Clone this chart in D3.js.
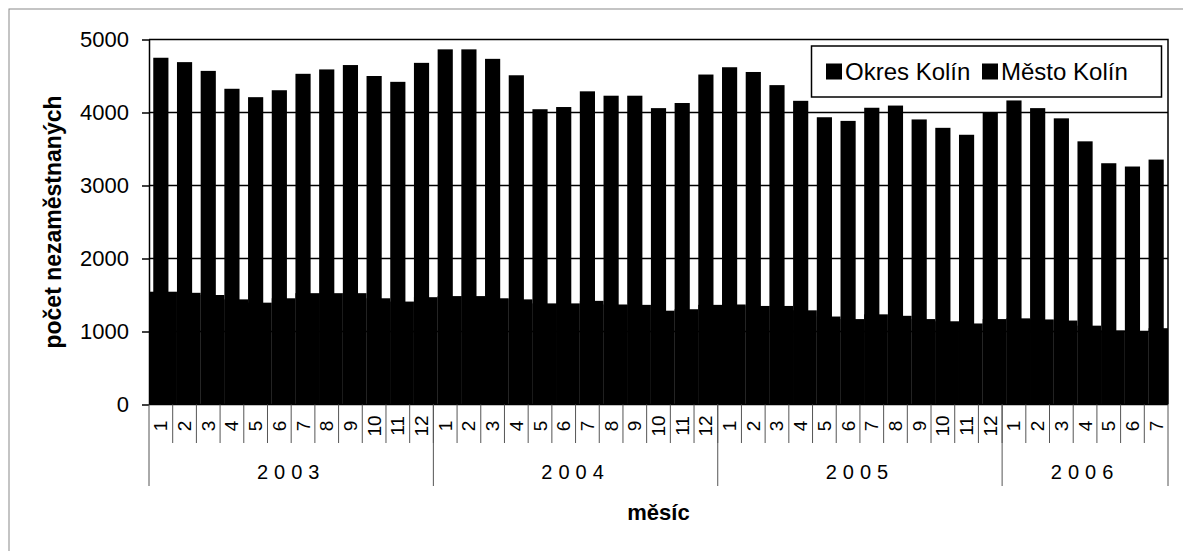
<!DOCTYPE html>
<html>
<head>
<meta charset="utf-8">
<script src="https://cdn.jsdelivr.net/npm/d3@7"></script>
<style>
  body { margin: 0; background: #fff; }
  text { font-family: "Liberation Sans", Arial, sans-serif; fill: #000; }
</style>
</head>
<body>
<div id="chart"></div>
<script>
// data
var years = ['2003', '2004', '2005', '2006'];
var monthsPerYear = [12, 12, 12, 7];
var seriesNames = ['Okres Kolín', 'Město Kolín'];
var okres = [4750, 4690, 4570, 4325, 4210, 4305, 4530, 4590, 4650, 4500, 4420, 4680,
             4865, 4865, 4735, 4510, 4045, 4075, 4290, 4230, 4230, 4060, 4130, 4520,
             4620, 4555, 4375, 4160, 3935, 3885, 4065, 4095, 3905, 3790, 3695, 4000,
             4165, 4060, 3920, 3605, 3305, 3260, 3355];
var mesto = [1545, 1530, 1500, 1440, 1395, 1455, 1525, 1525, 1525, 1455, 1410, 1470,
             1485, 1485, 1455, 1440, 1385, 1385, 1420, 1370, 1365, 1285, 1305, 1365,
             1370, 1350, 1350, 1290, 1205, 1170, 1235, 1215, 1170, 1140, 1110, 1170,
             1180, 1165, 1150, 1080, 1015, 1005, 1045];
var yTicks = [0, 1000, 2000, 3000, 4000, 5000];

var width = 1183, height = 551;
// plot area edges (named so they don't clash with window.top)
var pLeft = 149, pRight = 1168, pTop = 39.5, pBottom = 404.5;

// build the category list (year + month)
var cats = [];
years.forEach(function (yr, yi) {
  for (var m = 1; m <= monthsPerYear[yi]; m++) cats.push({ year: yr, month: m, i: cats.length });
});

var svg = d3.select('#chart').append('svg')
  .attr('width', width)
  .attr('height', height);

// outer chart frame (only top/left visible in the scan)
svg.append('rect')
  .attr('x', 9).attr('y', 9)
  .attr('width', width + 20).attr('height', height + 20)
  .attr('fill', 'none').attr('stroke', '#8a8a8a').attr('stroke-width', 1);

var x = d3.scaleBand().domain(cats.map(function (d) { return d.i; })).range([pLeft, pRight]);
var y = d3.scaleLinear().domain([0, 5000]).range([pBottom, pTop]);
var step = x.step();
var bw = step * 0.64;
var barX = function (i) { return x(i) + (step - bw) / 2; };

// gridlines
svg.append('g').selectAll('line').data(yTicks.slice(1, -1))
  .enter().append('line')
  .attr('x1', pLeft).attr('x2', pRight)
  .attr('y1', function (d) { return y(d); })
  .attr('y2', function (d) { return y(d); })
  .attr('stroke', '#000').attr('stroke-width', 1.5);

// Okres Kolín bars
svg.append('g').selectAll('rect').data(okres)
  .enter().append('rect')
  .attr('x', function (d, i) { return barX(i); })
  .attr('y', function (d) { return y(d); })
  .attr('width', bw)
  .attr('height', function (d) { return pBottom - y(d); })
  .attr('fill', '#000');

// Město Kolín bars (wide, fill the gaps)
svg.append('g').selectAll('rect').data(mesto)
  .enter().append('rect')
  .attr('x', function (d, i) { return i === 0 ? x(0) : barX(i); })
  .attr('y', function (d) { return y(d); })
  .attr('width', function (d, i) {
    var x0 = i === 0 ? x(0) : barX(i);
    return Math.min(barX(i) + step, pRight) - x0;
  })
  .attr('height', function (d) { return pBottom - y(d); })
  .attr('fill', '#000');

// plot border (top + right)
svg.append('path')
  .attr('d', 'M' + pLeft + ',' + pTop + 'H' + pRight + 'V' + pBottom)
  .attr('fill', 'none').attr('stroke', '#000').attr('stroke-width', 1.5);

// y axis
var yAxis = svg.append('g')
  .attr('transform', 'translate(' + pLeft + ',0)')
  .call(d3.axisLeft(y).tickValues(yTicks).tickFormat(d3.format('d'))
    .tickSize(7).tickPadding(13).tickSizeOuter(0));
yAxis.select('.domain').attr('stroke', '#000').attr('stroke-width', 1.5);
yAxis.selectAll('.tick line').attr('stroke', '#000').attr('stroke-width', 1.5);
yAxis.selectAll('.tick text').attr('font-size', 22).attr('font-family', '"Liberation Sans", Arial, sans-serif');

// zero line
svg.append('line')
  .attr('x1', pLeft).attr('x2', pRight)
  .attr('y1', y(0)).attr('y2', y(0))
  .attr('stroke', '#000').attr('stroke-width', 1.5);

// month ticks and labels
var mg = svg.append('g');
mg.selectAll('line').data(cats.slice(1))
  .enter().append('line')
  .attr('x1', function (d) { return x(d.i); })
  .attr('x2', function (d) { return x(d.i); })
  .attr('y1', pBottom).attr('y2', 443)
  .attr('stroke', '#555').attr('stroke-width', 1);
mg.selectAll('text').data(cats)
  .enter().append('text')
  .attr('transform', function (d) {
    return 'translate(' + (x(d.i) + step / 2) + ',426) rotate(-90)';
  })
  .attr('text-anchor', 'middle')
  .attr('dominant-baseline', 'central')
  .attr('font-size', 19)
  .text(function (d) { return d.month; });

// year separators and labels
var starts = [];
var acc = 0;
monthsPerYear.forEach(function (n) { starts.push(acc); acc += n; });
var yearSeps = starts.map(function (s) { return x(s); }).concat([pRight]);
svg.append('g').selectAll('line').data(yearSeps)
  .enter().append('line')
  .attr('x1', function (d) { return d; }).attr('x2', function (d) { return d; })
  .attr('y1', pBottom).attr('y2', 486)
  .attr('stroke', '#555').attr('stroke-width', 1);
svg.append('g').selectAll('text').data(years)
  .enter().append('text')
  .attr('x', function (d, i) {
    var a = x(starts[i]);
    var b = x(starts[i] + monthsPerYear[i] - 1) + step;
    return (a + b) / 2;
  })
  .attr('y', 479)
  .attr('text-anchor', 'middle')
  .attr('font-size', 20)
  .attr('letter-spacing', 6)
  .text(function (d) { return d; });

// axis titles
svg.append('text')
  .attr('transform', 'translate(53,' + ((pTop + pBottom) / 2) + ') rotate(-90)')
  .attr('text-anchor', 'middle')
  .attr('dominant-baseline', 'central')
  .attr('font-size', 23).attr('font-weight', 'bold')
  .text('počet nezaměstnaných');
svg.append('text')
  .attr('x', (pLeft + pRight) / 2).attr('y', 520)
  .attr('text-anchor', 'middle')
  .attr('font-size', 22).attr('font-weight', 'bold')
  .text('měsíc');

// legend
var lg = svg.append('g');
lg.append('rect')
  .attr('x', 811.5).attr('y', 46)
  .attr('width', 350).attr('height', 51)
  .attr('fill', '#fff').attr('stroke', '#000').attr('stroke-width', 1.5);
var items = lg.selectAll('g').data(seriesNames)
  .enter().append('g')
  .attr('transform', function (d, i) { return 'translate(' + (826 + i * 156) + ',71.5)'; });
items.append('rect')
  .attr('x', 0).attr('y', -8).attr('width', 16).attr('height', 16)
  .attr('fill', '#000');
items.append('text')
  .attr('x', 19).attr('y', 0)
  .attr('dominant-baseline', 'central')
  .attr('font-size', 24)
  .text(function (d) { return d; });
</script>
</body>
</html>
